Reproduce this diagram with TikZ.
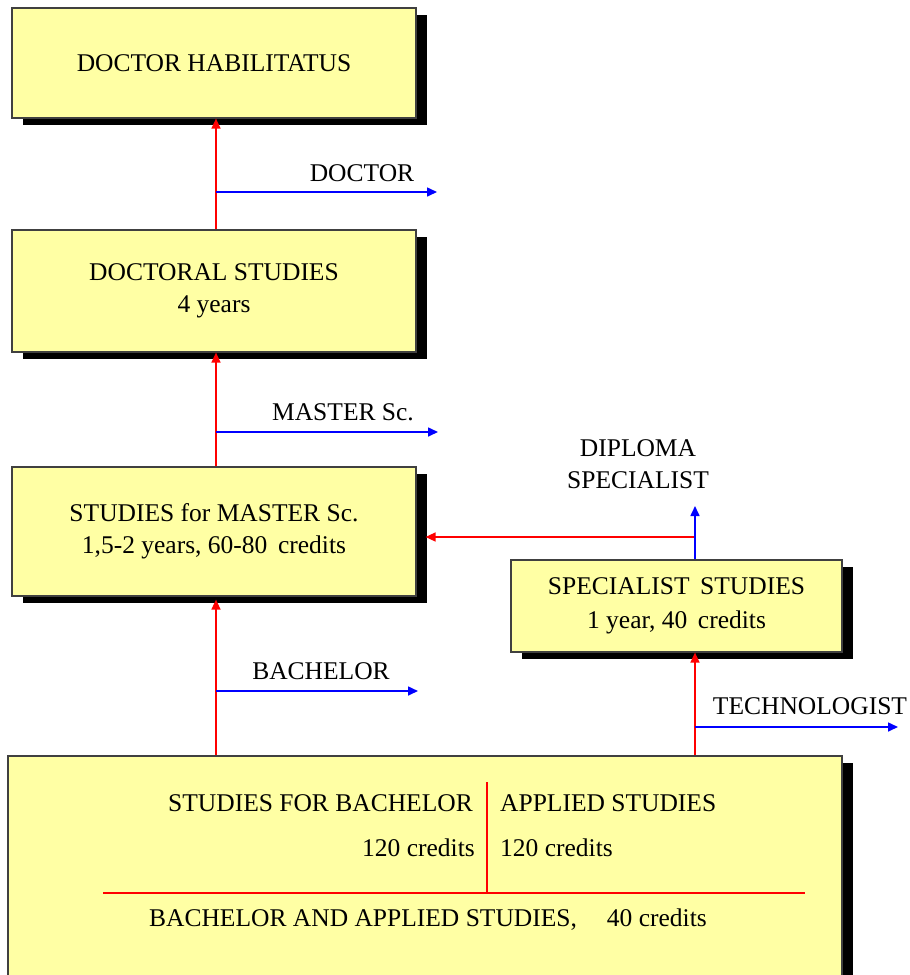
\documentclass[tikz,border=0pt]{standalone}
\definecolor{boxfill}{HTML}{FFFFA4}
\definecolor{frame}{HTML}{404040}
\usepackage{fontspec}
\setmainfont{Liberation Serif}
\usepackage{tikz}
\usetikzlibrary{arrows.meta}
\usetikzlibrary{shadows}
\begin{document}
\begin{tikzpicture}[x=1pt,y=-1pt,
	font=\fontsize{25.5}{32}\selectfont,
	box/.style={draw=frame, line width=1.2pt, fill=boxfill, inner sep=0pt,
		align=center,
		drop shadow={shadow xshift=11pt, shadow yshift=-7pt, fill=black, opacity=1}},
	redarrow/.style={draw=red, line width=1.6pt, -{Triangle[length=10pt,width=9pt]}},
	bluearrow/.style={draw=blue, line width=1.6pt, -{Triangle[length=10pt,width=9pt]}},
	lbl/.style={inner sep=0pt, align=center}]
	\useasboundingbox (0,0) rectangle (910,975);
	% boxes
	\node[box, minimum width=404pt, minimum height=110pt] (hab) at (214,63) {DOCTOR HABILITATUS};
	\node[box, minimum width=404pt, minimum height=122pt] (doc) at (214,291) {DOCTORAL STUDIES\\4 years};
	\node[box, minimum width=404pt, minimum height=129pt] (master) at (214,531.5) {STUDIES for MASTER Sc.\\1,5-2 years, 60-80\, credits};
	\node[box, minimum width=331pt, minimum height=92pt] (spec) at (676.5,606) {SPECIALIST\, STUDIES\\[2pt]1 year, 40\, credits};
	\node[box, minimum width=834pt, minimum height=240pt] (bottom) at (425,876) {};
	% inside the lower box
	\draw[red, line width=1.5pt] (487,782) -- (487,893);
	\draw[red, line width=1.5pt] (103,893) -- (805,893);
	\node[lbl, anchor=east] (bachT) at (473,803) {STUDIES FOR BACHELOR};
	\node[lbl, anchor=west] (appT) at (500,803) {APPLIED STUDIES};
	\node[lbl, anchor=east] (bachC) at (475,848) {120 credits};
	\node[lbl, anchor=west] (appC) at (500,848) {120 credits};
	\node[lbl] (joint) at (428,920) {BACHELOR AND APPLIED STUDIES,\hspace{30pt}40 credits};
	% connectors
	\coordinate (spine) at (216,0);
	\coordinate (side) at (695,0);
	\coordinate (docOut) at (437,192);
	\coordinate (mscOut) at (438,432);
	\coordinate (bachOut) at (418,691);
	\coordinate (techOut) at (898,727);
	\coordinate (dipTip) at (695,506);
	\coordinate (join) at (695,537);
	\draw[redarrow] (doc.north -| spine) -- (hab.south -| spine);
	\draw[redarrow] (master.north -| spine) -- (doc.south -| spine);
	\draw[redarrow] (bottom.north -| spine) -- ([yshift=-3pt]master.south -| spine);
	\draw[redarrow] (bottom.north -| side) -- (spec.south -| side);
	\draw[redarrow] (join) -- ([xshift=9pt]master.east |- join);
	\draw[bluearrow] (spec.north -| side) -- (dipTip);
	\draw[bluearrow] (docOut -| spine) -- (docOut);
	\draw[bluearrow] (mscOut -| spine) -- (mscOut);
	\draw[bluearrow] (bachOut -| spine) -- (bachOut);
	\draw[bluearrow] (techOut -| side) -- (techOut);
	% labels
	\node[lbl] (docLbl) at (362,173) {DOCTOR};
	\node[lbl] (mscLbl) at (343,412) {MASTER Sc.};
	\node[lbl] (bachLbl) at (321,671) {BACHELOR};
	\node[lbl] (techLbl) at (810,706) {TECHNOLOGIST};
	\node[lbl] (dipLbl) at (638,464) {DIPLOMA\\SPECIALIST};
\end{tikzpicture}
\end{document}
